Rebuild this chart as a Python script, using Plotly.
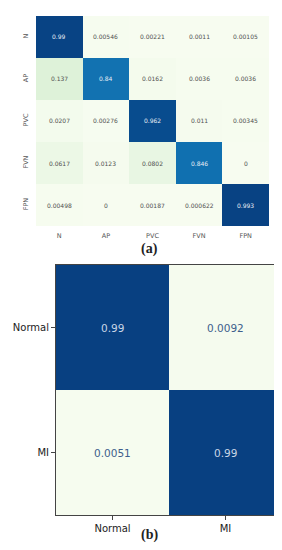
import plotly.graph_objects as go

# ---- data ----
classes_a = ["N", "AP", "PVC", "FVN", "FPN"]
cm_a = [
    [0.99, 0.00546, 0.00221, 0.0011, 0.00105],
    [0.137, 0.84, 0.0162, 0.0036, 0.0036],
    [0.0207, 0.00276, 0.962, 0.011, 0.00345],
    [0.0617, 0.0123, 0.0802, 0.846, 0],
    [0.00498, 0, 0.00187, 0.000622, 0.993],
]
text_a = [
    ["0.99", "0.00546", "0.00221", "0.0011", "0.00105"],
    ["0.137", "0.84", "0.0162", "0.0036", "0.0036"],
    ["0.0207", "0.00276", "0.962", "0.011", "0.00345"],
    ["0.0617", "0.0123", "0.0802", "0.846", "0"],
    ["0.00498", "0", "0.00187", "0.000622", "0.993"],
]
classes_b = ["Normal", "MI"]
cm_b = [
    [0.99, 0.0092],
    [0.0051, 0.99],
]
text_b = [["0.99", "0.0092"], ["0.0051", "0.99"]]

W, H = 282, 550

fig = go.Figure()

fig.add_trace(go.Heatmap(
    z=cm_a, x=classes_a, y=classes_a, colorscale="GnBu", zmin=0, zmax=1.0,
    showscale=False, xaxis="x", yaxis="y", hoverinfo="skip",
))
fig.add_trace(go.Heatmap(
    z=cm_b, x=classes_b, y=classes_b, colorscale="GnBu", zmin=0, zmax=0.99,
    showscale=False, xaxis="x2", yaxis="y2", hoverinfo="skip",
))

annotations = []
for i, r in enumerate(classes_a):
    for j, c in enumerate(classes_a):
        v = cm_a[i][j]
        annotations.append(dict(
            x=c, y=r, xref="x", yref="y", text=text_a[i][j], showarrow=False,
            font=dict(family="DejaVu Sans", size=6,
                      color="#e8eef5" if v > 0.5 else "#505050"),
        ))
for i, r in enumerate(classes_b):
    for j, c in enumerate(classes_b):
        v = cm_b[i][j]
        annotations.append(dict(
            x=c, y=r, xref="x2", yref="y2", text=text_b[i][j], showarrow=False,
            font=dict(family="DejaVu Sans", size=10.5,
                      color="#c9d6e6" if v > 0.5 else "#3e5f8c"),
        ))

annotations.append(dict(x=141 / W, y=1 - 241 / H, xref="paper", yref="paper",
                        text="<b>(a)</b>", showarrow=False,
                        font=dict(family="Liberation Serif", size=14, color="#222")))
annotations.append(dict(x=141 / W, y=1 - 537 / H, xref="paper", yref="paper",
                        text="<b>(b)</b>", showarrow=False,
                        font=dict(family="Liberation Serif", size=14, color="#222")))

fig.update_layout(
    width=W, height=H, margin=dict(l=0, r=0, t=0, b=0),
    paper_bgcolor="white", plot_bgcolor="white",
    annotations=annotations,
    xaxis=dict(domain=[28 / W, 261 / W], anchor="y", showgrid=False, zeroline=False,
               showline=False, ticks="", ticklabelstandoff=4,
               tickfont=dict(family="DejaVu Sans", size=6.5, color="#555")),
    yaxis=dict(domain=[1 - 218 / H, 1 - 8 / H], anchor="x", autorange="reversed",
               showgrid=False, zeroline=False, showline=False, ticks="",
               tickangle=-90, ticklabelstandoff=6,
               tickfont=dict(family="DejaVu Sans", size=6.5, color="#555")),
    xaxis2=dict(domain=[48 / W, 274 / W], anchor="y2", showgrid=False, zeroline=False,
                showline=True, mirror=True, linecolor="#444", linewidth=1,
                ticks="outside", ticklen=4, tickcolor="#444",
                tickfont=dict(family="DejaVu Sans", size=10, color="#222")),
    yaxis2=dict(domain=[1 - 507 / H, 1 - 257 / H], anchor="x2", autorange="reversed",
                showgrid=False, zeroline=False, showline=True, mirror=True,
                linecolor="#444", linewidth=1, ticks="outside", ticklen=4,
                tickcolor="#444",
                tickfont=dict(family="DejaVu Sans", size=10, color="#222")),
)

fig.write_html("out.html")
